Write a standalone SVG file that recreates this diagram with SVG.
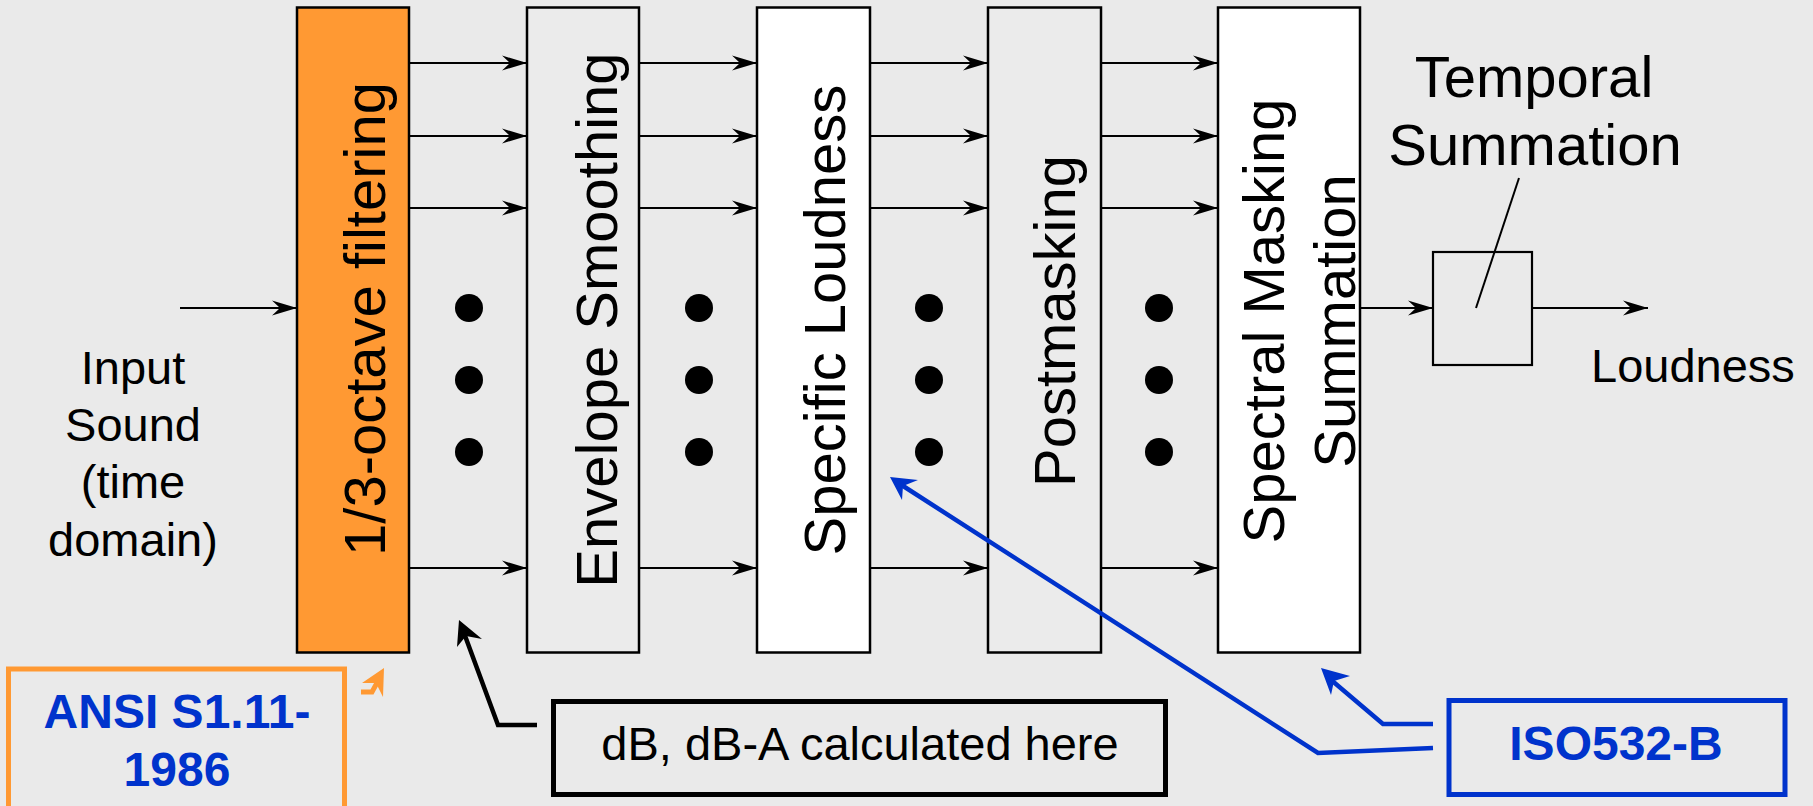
<svg xmlns="http://www.w3.org/2000/svg" width="1813" height="806" viewBox="0 0 1813 806">
  <style>
    text { font-family: "Liberation Sans", Arial, Helvetica, sans-serif; fill: #000; }
    .lbl { font-size: 47px; }
    .big { font-size: 58px; }
    .std { font-size: 48px; font-weight: bold; fill: #0033CC; }
    .stage { stroke: #000; stroke-width: 2.5; }
    .flow { stroke: #000; stroke-width: 2.2; fill: none; marker-end: url(#ah); }
    .dot { fill: #000; }
  </style>
  <defs>
    <marker id="ah" markerUnits="userSpaceOnUse" markerWidth="26" markerHeight="16" viewBox="0 0 26 16" refX="25" refY="8" orient="auto">
      <path d="M25,8 L0,0.5 L8,8 L0,15.5 Z" fill="#000"/>
    </marker>
  </defs>

  <rect width="1813" height="806" fill="#EAEAEA"/>

  <!-- processing stages -->
  <g id="filtering">
    <rect class="stage" x="297" y="7.5" width="112" height="645" fill="#FF9933"/>
    <text class="big" text-anchor="middle" transform="translate(385,319) rotate(-90)">1/3-octave filtering</text>
  </g>
  <g id="envelope">
    <rect class="stage" x="527" y="7.5" width="112" height="645" fill="#EBEBEB"/>
    <text class="big" text-anchor="middle" transform="translate(617,320) rotate(-90)">Envelope Smoothing</text>
  </g>
  <g id="specific-loudness">
    <rect class="stage" x="757" y="7.5" width="113" height="645" fill="#FFFFFF"/>
    <text class="big" text-anchor="middle" transform="translate(845,320) rotate(-90)">Specific Loudness</text>
  </g>
  <g id="postmasking">
    <rect class="stage" x="988" y="7.5" width="113" height="645" fill="#EBEBEB"/>
    <text class="big" text-anchor="middle" transform="translate(1075,321) rotate(-90)">Postmasking</text>
  </g>
  <g id="spectral-masking">
    <rect class="stage" x="1218" y="7.5" width="142" height="645" fill="#FFFFFF"/>
    <text class="big" text-anchor="middle" transform="translate(1284,321) rotate(-90)">Spectral Masking</text>
    <text class="big" text-anchor="middle" transform="translate(1355,321) rotate(-90)">Summation</text>
  </g>
  <g id="temporal-summation">
    <rect x="1433" y="252" width="99" height="113" fill="none" stroke="#000" stroke-width="2.2"/>
    <text class="big" text-anchor="middle" x="1534" y="97">Temporal</text>
    <text class="big" text-anchor="middle" x="1535" y="165">Summation</text>
    <line x1="1519" y1="178" x2="1476" y2="308" stroke="#000" stroke-width="2"/>
  </g>

  <g id="input-label">
    <text class="lbl" text-anchor="middle" x="133" y="384">Input</text>
    <text class="lbl" text-anchor="middle" x="133" y="441">Sound</text>
    <text class="lbl" text-anchor="middle" x="133" y="498">(time</text>
    <text class="lbl" text-anchor="middle" x="133" y="556">domain)</text>
  </g>
  <g id="output-label">
    <text class="lbl" x="1591" y="382">Loudness</text>
  </g>

  <!-- band ellipsis between stages -->
  <g id="band-dots">
    <circle class="dot" cx="469" cy="308" r="14"/>
    <circle class="dot" cx="469" cy="380" r="14"/>
    <circle class="dot" cx="469" cy="452" r="14"/>
    <circle class="dot" cx="699" cy="308" r="14"/>
    <circle class="dot" cx="699" cy="380" r="14"/>
    <circle class="dot" cx="699" cy="452" r="14"/>
    <circle class="dot" cx="929" cy="308" r="14"/>
    <circle class="dot" cx="929" cy="380" r="14"/>
    <circle class="dot" cx="929" cy="452" r="14"/>
    <circle class="dot" cx="1159" cy="308" r="14"/>
    <circle class="dot" cx="1159" cy="380" r="14"/>
    <circle class="dot" cx="1159" cy="452" r="14"/>
  </g>

  <!-- annotation boxes -->
  <g id="ansi-note">
    <rect x="8.5" y="669" width="336" height="160" fill="none" stroke="#FF9933" stroke-width="5"/>
    <text class="std" text-anchor="middle" x="177" y="728">ANSI S1.11-</text>
    <text class="std" text-anchor="middle" x="177" y="786">1986</text>
  </g>
  <g id="db-note">
    <rect x="553.5" y="701.5" width="612" height="93" fill="none" stroke="#000" stroke-width="5"/>
    <text class="lbl" text-anchor="middle" x="860" y="760">dB, dB-A calculated here</text>
  </g>
  <g id="iso-note">
    <rect x="1449" y="700.5" width="336" height="94" fill="none" stroke="#0033CC" stroke-width="5"/>
    <text class="std" text-anchor="middle" x="1616" y="760">ISO532-B</text>
  </g>

  <g id="connectors">
    <line class="flow" x1="180" y1="308" x2="297" y2="308"/>
    <!-- band channels -->
    <line class="flow" x1="409" y1="63" x2="527" y2="63"/>
    <line class="flow" x1="409" y1="136" x2="527" y2="136"/>
    <line class="flow" x1="409" y1="208" x2="527" y2="208"/>
    <line class="flow" x1="409" y1="568" x2="527" y2="568"/>
    <line class="flow" x1="639" y1="63" x2="757" y2="63"/>
    <line class="flow" x1="639" y1="136" x2="757" y2="136"/>
    <line class="flow" x1="639" y1="208" x2="757" y2="208"/>
    <line class="flow" x1="639" y1="568" x2="757" y2="568"/>
    <line class="flow" x1="870" y1="63" x2="988" y2="63"/>
    <line class="flow" x1="870" y1="136" x2="988" y2="136"/>
    <line class="flow" x1="870" y1="208" x2="988" y2="208"/>
    <line class="flow" x1="870" y1="568" x2="988" y2="568"/>
    <line class="flow" x1="1101" y1="63" x2="1218" y2="63"/>
    <line class="flow" x1="1101" y1="136" x2="1218" y2="136"/>
    <line class="flow" x1="1101" y1="208" x2="1218" y2="208"/>
    <line class="flow" x1="1101" y1="568" x2="1218" y2="568"/>
    <line class="flow" x1="1360" y1="308" x2="1433" y2="308"/>
    <line class="flow" x1="1532" y1="308" x2="1648" y2="308"/>

    <!-- annotation pointers -->
    <path d="M537,725 L498,725 L464,633" fill="none" stroke="#000" stroke-width="4.5"/>
    <path d="M459,620 L457,647 L466,636 L482,639 Z" fill="#000"/>

    <path d="M1433,724 L1383,724 L1330,679" fill="none" stroke="#0033CC" stroke-width="4.5"/>
    <path d="M1321,668 L1331,695 L1334,681 L1350,676 Z" fill="#0033CC"/>

    <path d="M1433,748 L1318,753 L900,484" fill="none" stroke="#0033CC" stroke-width="4.5"/>
    <path d="M890,477 L902,500 L903,486 L918,480 Z" fill="#0033CC"/>

    <path d="M361,692 L372,692 L378,681" fill="none" stroke="#FF9933" stroke-width="5"/>
    <path d="M384,668 L362,683 L376,683 L383,697 Z" fill="#FF9933"/>
  </g>
</svg>
